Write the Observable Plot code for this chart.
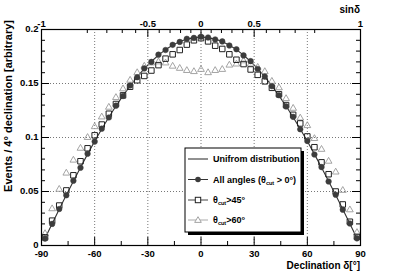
<!DOCTYPE html>
<html>
<head>
<meta charset="utf-8">
<script src="https://cdn.jsdelivr.net/npm/d3@7"></script>
<script src="https://cdn.jsdelivr.net/npm/@observablehq/plot@0.6"></script>
<style>
  html, body { margin: 0; padding: 0; background: white; }
  #chart { position: relative; width: 402px; height: 276px; }
</style>
</head>
<body>
<div id="chart"></div>
<script>
// ---- data ----
const declination = [-88,-84,-80,-76,-72,-68,-64,-60,-56,-52,-48,-44,-40,-36,-32,-28,-24,-20,-16,-12,-8,-4,0,
  4,8,12,16,20,24,28,32,36,40,44,48,52,56,60,64,68,72,76,80,84,88];
const uniform = [0.0067,0.0202,0.0335,0.0467,0.0596,0.0723,0.0846,0.0965,0.1079,0.1188,0.1291,0.1388,0.1478,0.1561,0.1637,0.1704,0.1763,0.1814,0.1855,0.1888,0.1911,0.1925,0.1930,
  0.1925,0.1911,0.1888,0.1855,0.1814,0.1763,0.1704,0.1637,0.1561,0.1478,0.1388,0.1291,0.1188,0.1079,0.0965,0.0846,0.0723,0.0596,0.0467,0.0335,0.0202,0.0067];
const allAngles = [0.0064,0.0200,0.0338,0.0465,0.0600,0.0720,0.0850,0.0962,0.1082,0.1185,0.1295,0.1384,0.1482,0.1558,0.1640,0.1700,0.1767,0.1810,0.1858,0.1885,0.1914,0.1922,0.1933,
  0.1926,0.1908,0.1890,0.1852,0.1817,0.1760,0.1707,0.1634,0.1564,0.1475,0.1391,0.1288,0.1191,0.1076,0.0968,0.0843,0.0726,0.0593,0.0470,0.0332,0.0204,0.0066];
const cut45 = [0.0075,0.023,0.037,0.051,0.065,0.078,0.090,0.102,0.112,0.122,0.131,0.139,0.147,0.153,0.157,0.162,0.167,0.173,0.177,0.181,0.186,0.190,0.192,
  0.189,0.185,0.182,0.177,0.172,0.168,0.163,0.158,0.152,0.146,0.140,0.130,0.121,0.113,0.101,0.091,0.077,0.066,0.050,0.038,0.022,0.008];
const cut60 = [0.011,0.034,0.052,0.067,0.079,0.090,0.100,0.110,0.119,0.128,0.137,0.145,0.153,0.160,0.166,0.169,0.170,0.169,0.166,0.164,0.162,0.161,0.163,
  0.160,0.162,0.163,0.167,0.168,0.171,0.168,0.165,0.161,0.152,0.146,0.136,0.127,0.118,0.111,0.099,0.089,0.078,0.068,0.051,0.033,0.012];

const declTickLabels = [-90,-60,-30,0,30,60,90];
const declMinorTicks = [-90,-75,-60,-45,-30,-15,0,15,30,45,60,75,90];
const declGrid = [-60,-30,0,30,60];
const sinTickLabels = [-1,-0.5,0,0.5,1];
const sinMinorTicks = [-1,-0.9,-0.8,-0.7,-0.6,-0.5,-0.4,-0.3,-0.2,-0.1,0,0.1,0.2,0.3,0.4,0.5,0.6,0.7,0.8,0.9,1];
const yTickLabels = [0,0.05,0.1,0.15,0.2];
const yMinorTicks = [0,0.01,0.02,0.03,0.04,0.05,0.06,0.07,0.08,0.09,0.1,0.11,0.12,0.13,0.14,0.15,0.16,0.17,0.18,0.19,0.2];
const yGrid = [0.05,0.1,0.15];
const legendLabels = ["Unifrom distribution","All angles","45","60"];

// ---- layout ----
const W = 402, H = 276, ML = 41, MR = 42, MT = 29, MB = 31;
const yPerPx = 0.2 / (H - MT - MB);
const xPerPx = 180 / (W - ML - MR);
const asinDeg = s => Math.asin(Math.max(-1, Math.min(1, s))) * 180 / Math.PI;
const isMajorY = v => Math.abs(Math.round(v / 0.05) * 0.05 - v) < 1e-9;
const isMajorSin = s => Math.abs(Math.round(s * 2) / 2 - s) < 1e-9;

const rows = declination.map((d, i) => ({d, u: uniform[i], a: allAngles[i], c45: cut45[i], c60: cut60[i]}));

const chart = Plot.plot({
  width: W, height: H,
  marginLeft: ML, marginRight: MR, marginTop: MT, marginBottom: MB,
  style: {fontFamily: "'Liberation Sans', Arial, sans-serif", fontSize: "9.5px", fontWeight: "bold", background: "white", color: "black"},
  x: {domain: [-90, 90]},
  y: {domain: [0, 0.2]},
  marks: [
    Plot.gridX(declGrid, {stroke: "#777", strokeOpacity: 1, strokeDasharray: "1,2"}),
    Plot.gridY(yGrid, {stroke: "#777", strokeOpacity: 1, strokeDasharray: "1,2"}),
    Plot.axisX(declTickLabels, {anchor: "bottom", tickSize: 0, tickPadding: 5, tickFormat: d => String(d), label: null}),
    Plot.axisX(sinTickLabels.map(asinDeg), {anchor: "top", tickSize: 0, tickPadding: 3,
      tickFormat: d => String(Math.round(Math.sin(d * Math.PI / 180) * 10) / 10), label: null}),
    Plot.axisY(yTickLabels, {anchor: "left", tickSize: 0, tickPadding: 3, dy: -1, tickFormat: d => String(d), label: null}),
    // inward ticks
    Plot.ruleX(declMinorTicks, {x: d => d, y1: 0, y2: d => (d % 30 === 0 ? 8 : 4) * yPerPx, stroke: "black"}),
    Plot.ruleX(sinMinorTicks, {x: asinDeg, y1: 0.2, y2: s => 0.2 - (isMajorSin(s) ? 8 : 4) * yPerPx, stroke: "black"}),
    Plot.ruleY(yMinorTicks, {y: d => d, x1: -90, x2: d => -90 + (isMajorY(d) ? 8 : 4) * xPerPx, stroke: "black"}),
    Plot.ruleY(yMinorTicks, {y: d => d, x1: 90, x2: d => 90 - (isMajorY(d) ? 8 : 4) * xPerPx, stroke: "black"}),
    // data
    Plot.line(rows, {x: "d", y: "u", stroke: "#333", strokeWidth: 1.1}),
    Plot.dot(rows, {x: "d", y: "c60", symbol: "triangle", r: 2.5, stroke: "#9a9a9a", fill: "none", strokeWidth: 0.9}),
    Plot.dot(rows, {x: "d", y: "c45", symbol: "square", r: 3.1, stroke: "#222", fill: "none", strokeWidth: 1}),
    Plot.dot(rows, {x: "d", y: "a", symbol: "circle", r: 2.8, fill: "#3c3c3c", stroke: "#3c3c3c", strokeWidth: 0.5}),
    Plot.frame({stroke: "black", strokeWidth: 1.2})
  ]
});

const svg = d3.select(chart);
const font = "'Liberation Sans', Arial, sans-serif";

// axis titles
svg.append("text").attr("x", W - MR).attr("y", 269).attr("text-anchor", "end")
  .attr("font-family", font).attr("font-size", 10).attr("font-weight", "bold")
  .text("Declination δ[°]");
svg.append("text").attr("x", W - MR).attr("y", 13).attr("text-anchor", "end")
  .attr("font-family", font).attr("font-size", 10).attr("font-weight", "bold")
  .text("sinδ");
svg.append("text").attr("transform", "translate(12,20) rotate(-90)").attr("text-anchor", "end")
  .attr("font-family", font).attr("font-size", 11).attr("font-weight", "bold")
  .text("Events / 4° declination [arbitrary]");

// legend
const lg = svg.append("g").attr("text-anchor", "start");
const bx = 185, by = 148, bw = 116, bh = 84;
lg.append("rect").attr("x", bx + 3).attr("y", by + 3).attr("width", bw).attr("height", bh).attr("fill", "black");
lg.append("rect").attr("x", bx).attr("y", by).attr("width", bw).attr("height", bh).attr("fill", "white").attr("stroke", "black").attr("stroke-width", 1);
const rowY = [159, 179.5, 200, 220];
const lineCol = ["#222", "#333", "#444", "#aaa"];
rowY.forEach((yy, i) => {
  lg.append("line").attr("x1", 188).attr("x2", 208).attr("y1", yy).attr("y2", yy).attr("stroke", lineCol[i]).attr("stroke-width", 1);
});
lg.append("circle").attr("cx", 198).attr("cy", rowY[1]).attr("r", 2.8).attr("fill", "#3c3c3c");
lg.append("rect").attr("x", 198 - 2.7).attr("y", rowY[2] - 2.7).attr("width", 5.4).attr("height", 5.4).attr("fill", "white").attr("stroke", "#222");
lg.append("path").attr("d", `M198,${rowY[3] - 3.3}L201.3,${rowY[3] + 2.4}L194.7,${rowY[3] + 2.4}Z`).attr("fill", "white").attr("stroke", "#9a9a9a").attr("stroke-width", 0.9);

const txt = (yy) => lg.append("text").attr("x", 213).attr("y", yy + 3.3).attr("text-anchor", "start")
  .attr("font-family", font).attr("font-size", 9).attr("font-weight", "bold");
txt(rowY[0]).text(legendLabels[0]);
{
  const t = txt(rowY[1]);
  t.append("tspan").text(legendLabels[1] + " (θ");
  t.append("tspan").attr("font-size", 5.5).attr("dy", 2).text("cut");
  t.append("tspan").attr("dy", -2).text(" > 0°)");
}
[2, 3].forEach(i => {
  const t = txt(rowY[i]);
  t.append("tspan").text("θ");
  t.append("tspan").attr("font-size", 5.5).attr("dy", 2).text("cut");
  t.append("tspan").attr("dy", -2).text(">" + legendLabels[i] + "°");
});

document.getElementById("chart").appendChild(chart);
</script>
</body>
</html>
